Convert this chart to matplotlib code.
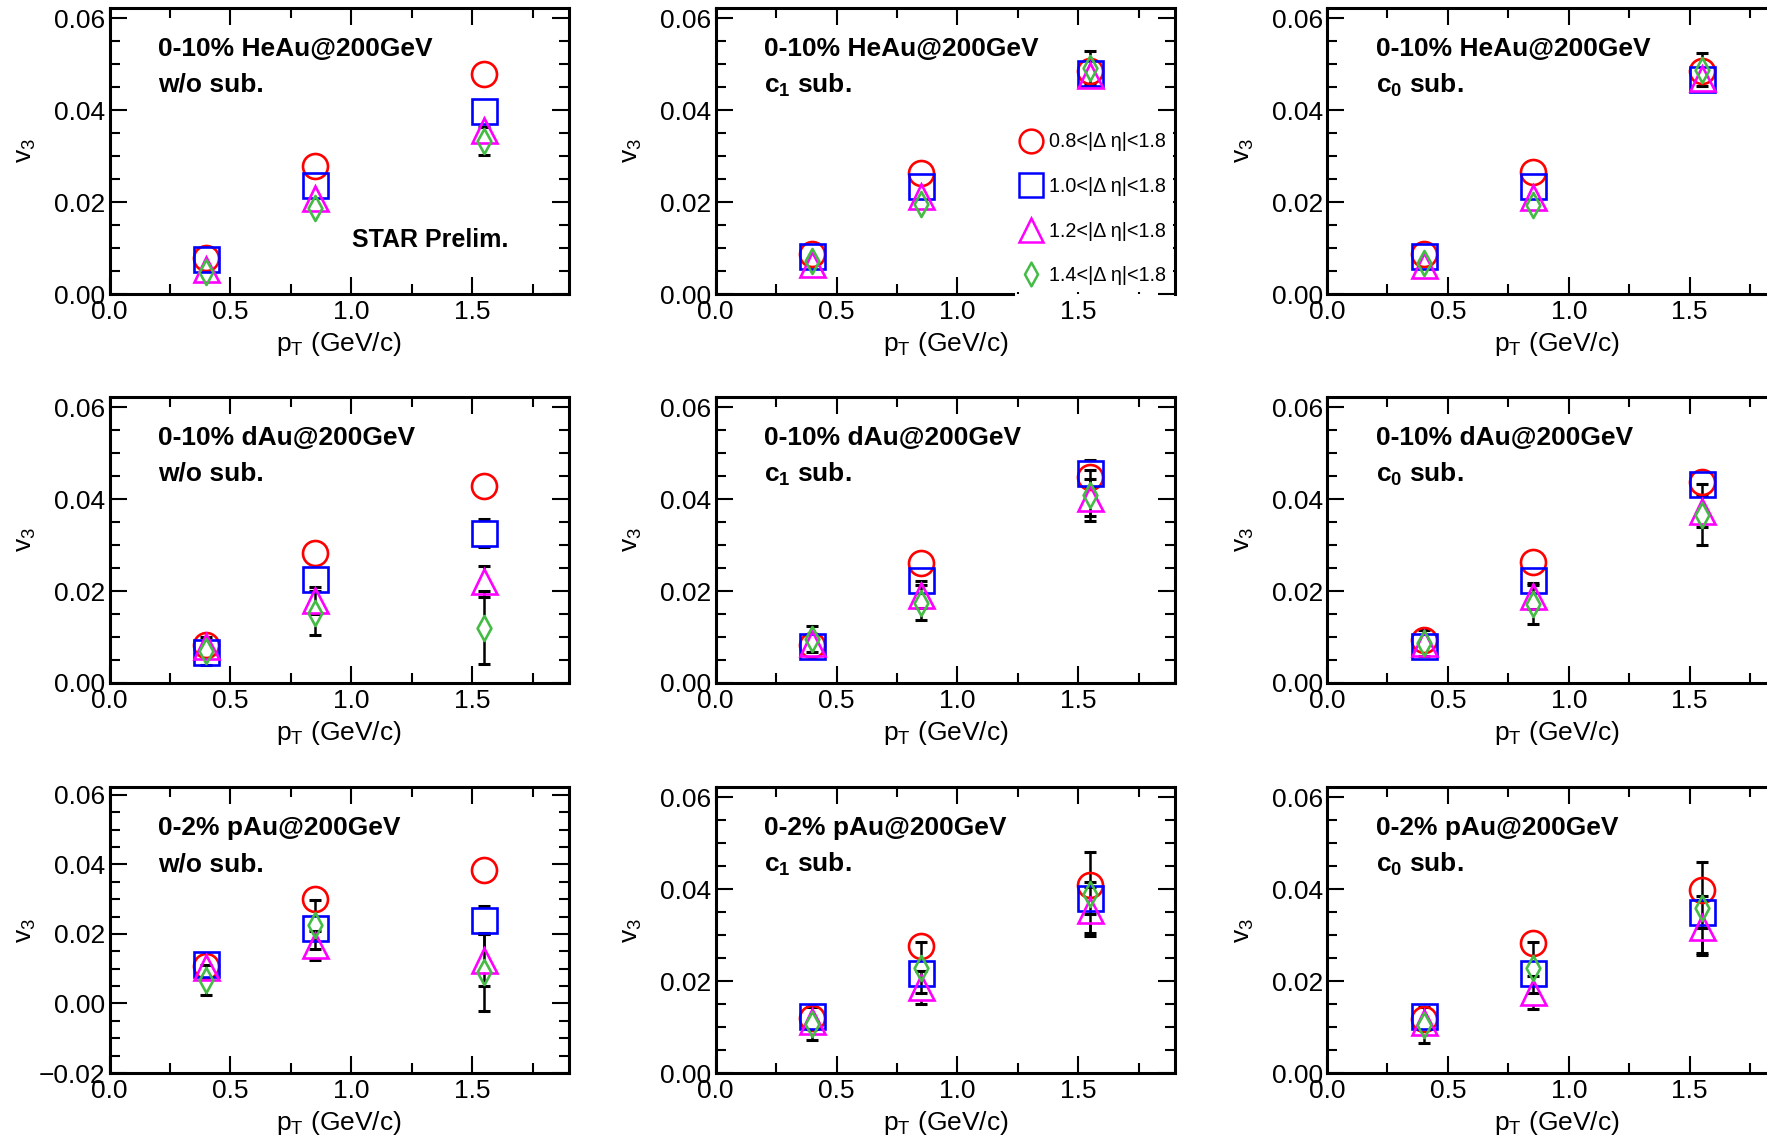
import numpy as np
import matplotlib.pyplot as plt
from matplotlib.lines import Line2D
from matplotlib.path import Path
from matplotlib.ticker import MultipleLocator, FuncFormatter

plt.rcParams['font.family'] = ['Liberation Sans', 'DejaVu Sans']
plt.rcParams['mathtext.fontset'] = 'custom'
plt.rcParams['mathtext.rm'] = 'Liberation Sans'
plt.rcParams['mathtext.it'] = 'Liberation Sans'
plt.rcParams['mathtext.bf'] = 'Liberation Sans:bold'

# data: pT bins, 4 eta-gap selections per panel (0.8, 1.0, 1.2, 1.4 < |deta| < 1.8)
pt = [0.4, 0.85, 1.55]
gap_labels = ['0.8<|Δ η|<1.8', '1.0<|Δ η|<1.8', '1.2<|Δ η|<1.8', '1.4<|Δ η|<1.8']
systems = ['0-10% HeAu@200GeV', '0-10% dAu@200GeV', '0-2% pAu@200GeV']
methods = ['w/o sub.', r'$\mathbf{c_1}$ sub.', r'$\mathbf{c_0}$ sub.']

heau_wo = [[0.0079, 0.0278, 0.0478], [0.0076, 0.0237, 0.0397], [0.0055, 0.0208, 0.0356], [0.0047, 0.0188, 0.0333]]
heau_wo_err = [[0.0005, 0.0008, 0.0010], [0.0006, 0.0010, 0.0013], [0.0008, 0.0013, 0.0018], [0.0010, 0.0016, 0.0030]]
heau_c1 = [[0.0087, 0.0263, 0.0484], [0.0083, 0.0234, 0.0481], [0.0065, 0.0213, 0.0476], [0.0071, 0.0195, 0.0492]]
heau_c1_err = [[0.0005, 0.0008, 0.0015], [0.0006, 0.0010, 0.0020], [0.0008, 0.0013, 0.0025], [0.0010, 0.0016, 0.0036]]
heau_c0 = [[0.0087, 0.0265, 0.0486], [0.0083, 0.0234, 0.0468], [0.0062, 0.0212, 0.0470], [0.0068, 0.0193, 0.0488]]
heau_c0_err = [[0.0005, 0.0008, 0.0015], [0.0006, 0.0010, 0.0020], [0.0008, 0.0013, 0.0025], [0.0010, 0.0016, 0.0036]]

dau_wo = [[0.0083, 0.0283, 0.0428], [0.0067, 0.0227, 0.0326], [0.0080, 0.0180, 0.0221], [0.0069, 0.0152, 0.0120]]
dau_wo_err = [[0.0006, 0.0008, 0.0010], [0.0008, 0.0012, 0.0030], [0.0015, 0.0029, 0.0033], [0.0030, 0.0047, 0.0079]]
dau_c1 = [[0.0083, 0.0260, 0.0448], [0.0080, 0.0225, 0.0456], [0.0087, 0.0192, 0.0403], [0.0096, 0.0174, 0.0408]]
dau_c1_err = [[0.0008, 0.0010, 0.0020], [0.0012, 0.0015, 0.0030], [0.0018, 0.0029, 0.0040], [0.0028, 0.0038, 0.0055]]
dau_c0 = [[0.0094, 0.0263, 0.0437], [0.0080, 0.0225, 0.0432], [0.0087, 0.0189, 0.0374], [0.0087, 0.0171, 0.0366]]
dau_c0_err = [[0.0008, 0.0010, 0.0015], [0.0010, 0.0014, 0.0020], [0.0015, 0.0029, 0.0034], [0.0028, 0.0043, 0.0067]]

pau_wo = [[0.0109, 0.0300, 0.0384], [0.0114, 0.0216, 0.0241], [0.0104, 0.0167, 0.0125], [0.0068, 0.0227, 0.0090]]
pau_wo_err = [[0.0010, 0.0015, 0.0020], [0.0015, 0.0025, 0.0040], [0.0025, 0.0042, 0.0075], [0.0044, 0.0071, 0.0112]]
pau_c1 = [[0.0120, 0.0276, 0.0410], [0.0125, 0.0217, 0.0380], [0.0114, 0.0187, 0.0354], [0.0107, 0.0229, 0.0390]]
pau_c1_err = [[0.0010, 0.0015, 0.0020], [0.0015, 0.0020, 0.0035], [0.0025, 0.0036, 0.0050], [0.0036, 0.0055, 0.0091]]
pau_c0 = [[0.0118, 0.0283, 0.0399], [0.0125, 0.0217, 0.0350], [0.0111, 0.0176, 0.0317], [0.0104, 0.0229, 0.0360]]
pau_c0_err = [[0.0010, 0.0015, 0.0025], [0.0015, 0.0020, 0.0035], [0.0025, 0.0036, 0.0060], [0.0039, 0.0055, 0.0098]]

values = [[heau_wo, heau_c1, heau_c0], [dau_wo, dau_c1, dau_c0], [pau_wo, pau_c1, pau_c0]]
errors = [[heau_wo_err, heau_c1_err, heau_c0_err], [dau_wo_err, dau_c1_err, dau_c0_err],
          [pau_wo_err, pau_c1_err, pau_c0_err]]

# marker styles (ROOT-like open markers)
thin_diamond = Path([(0, 1), (0.55, 0), (0, -1), (-0.55, 0), (0, 1)], closed=True)
colors = ['#ff0000', '#0000ff', '#ff00ff', '#44bb44']
markers = ['o', 's', '^', thin_diamond]
msizes = [18, 18, 18, 18]

FIG_W, FIG_H, DPI = 17.67, 11.44, 100
fig = plt.figure(figsize=(FIG_W, FIG_H), dpi=DPI)
lefts = [0.062, 0.405, 0.751]
bottoms = [0.743, 0.403, 0.062]
w, h = 0.260, 0.250


def minus_fmt(fmt):
    return FuncFormatter(lambda v, p: (fmt % v).replace('-', '\u2212'))


def root_errors(ax, x, y, e, ms, yrange):
    # ROOT style: bar is not drawn inside the marker
    half = ms / 2 * DPI / 72 / (h * FIG_H * DPI) * yrange
    for xi, yi, ei in zip(x, y, e):
        if ei <= half:
            continue
        ax.vlines(xi, yi + half, yi + ei, color='black', lw=1.8, zorder=3)
        ax.vlines(xi, yi - ei, yi - half, color='black', lw=1.8, zorder=3)
        ax.plot([xi, xi], [yi - ei, yi + ei], ls='none', marker='_', ms=9, mew=2.2,
                color='black', zorder=3)


for r in range(3):
    for c in range(3):
        ax = fig.add_axes([lefts[c], bottoms[r], w, h])
        ylo = -0.02 if (r == 2 and c == 0) else 0.0
        yhi = 0.0622
        for k in range(4):
            root_errors(ax, pt, values[r][c][k], errors[r][c][k], msizes[k], yhi - ylo)
            ax.plot(pt, values[r][c][k], ls='none', marker=markers[k], ms=msizes[k],
                    mfc='none', mec=colors[k], mew=1.9, zorder=4)
        ax.set_xlim(0, 1.9)
        ax.set_ylim(ylo, yhi)
        ax.xaxis.set_major_locator(MultipleLocator(0.5))
        ax.xaxis.set_minor_locator(MultipleLocator(0.25))
        ax.yaxis.set_major_locator(MultipleLocator(0.02))
        ax.yaxis.set_minor_locator(MultipleLocator(0.005))
        ax.xaxis.set_major_formatter(minus_fmt('%.1f'))
        ax.yaxis.set_major_formatter(minus_fmt('%.2f'))
        ax.tick_params(which='both', direction='in', top=True, right=True, width=1.5,
                       labelsize=19)
        ax.tick_params(which='major', length=12)
        ax.tick_params(which='minor', length=7)
        ax.tick_params(axis='y', which='major', pad=3)
        ax.tick_params(axis='x', which='major', pad=4)
        for sp in ax.spines.values():
            sp.set_linewidth(2.2)
        ax.set_xlabel(r'p$_\mathrm{T}$ (GeV/c)', fontsize=19)
        ax.set_ylabel(r'v$_3$', fontsize=19)
        ax.xaxis.set_label_coords(0.5, -0.125)
        ax.yaxis.set_label_coords(-0.155, 0.5)
        ax.text(0.106, 0.858, systems[r], transform=ax.transAxes, fontsize=19,
                fontweight='bold', va='center', ha='left')
        ax.text(0.106, 0.731, methods[c], transform=ax.transAxes, fontsize=19,
                fontweight='bold', va='center', ha='left')
        if r == 0 and c == 0:
            ax.text(0.527, 0.19, 'STAR Prelim.', transform=ax.transAxes, fontsize=18,
                    fontweight='bold', va='center', ha='left')
        if r == 0 and c == 1:
            handles = [Line2D([], [], ls='none', marker=markers[k], ms=msizes[k] * 0.95,
                              mfc='none', mec=colors[k], mew=1.8) for k in range(4)]
            leg = ax.legend(handles, gap_labels, loc='lower left', bbox_to_anchor=(0.648, 0.006),
                            fontsize=14.2, frameon=True, fancybox=False, facecolor='white',
                            edgecolor='none', framealpha=1, labelspacing=1.3,
                            handletextpad=0.35, handlelength=1.1, borderpad=0.35,
                            borderaxespad=0)
            leg.set_zorder(2.4)
            # legend box hides the bottom frame line under it
            ax.spines['bottom'].set_bounds(0, 1.23)

fig.savefig('out.png', dpi=DPI)
